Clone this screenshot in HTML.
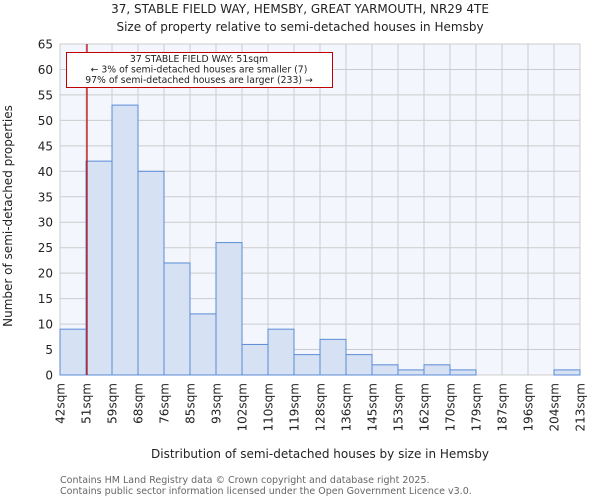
<!DOCTYPE html>
<html><head><meta charset="utf-8"><style>
body{margin:0;background:#fff;font-family:"DejaVu Sans","Liberation Sans",sans-serif;}
svg text{font-family:"DejaVu Sans","Liberation Sans",sans-serif;}
</style></head><body>
<svg id="chart" width="600" height="500" xmlns="http://www.w3.org/2000/svg">
<text x="300" y="13" text-anchor="middle" font-size="12" fill="#222">37, STABLE FIELD WAY, HEMSBY, GREAT YARMOUTH, NR29 4TE</text>
<text x="300" y="31" text-anchor="middle" font-size="12" fill="#222">Size of property relative to semi-detached houses in Hemsby</text>
<rect x="60" y="44" width="520" height="331" fill="#f3f6fd"/>
<g id="grid"></g><g id="bars"></g><g id="axes"></g>
<text transform="translate(12,216) rotate(-90)" text-anchor="middle" font-size="12" fill="#222">Number of semi-detached properties</text>
<text x="320" y="458" text-anchor="middle" font-size="12" fill="#222">Distribution of semi-detached houses by size in Hemsby</text>
<text x="60" y="483" font-size="9.5" fill="#666">Contains HM Land Registry data © Crown copyright and database right 2025.</text>
<text x="60" y="494" font-size="9.5" fill="#666">Contains public sector information licensed under the Open Government Licence v3.0.</text>
<line x1="87" y1="44" x2="87" y2="375" stroke="#c00000" stroke-width="1.2"/>
<g>
<rect x="66.5" y="52.5" width="266" height="35" fill="#fff" stroke="#c00000" stroke-width="1"/>
<text x="199" y="62" text-anchor="middle" font-size="9.3" fill="#222">37 STABLE FIELD WAY: 51sqm</text>
<text x="199" y="72.5" text-anchor="middle" font-size="9.3" fill="#222">← 3% of semi-detached houses are smaller (7)</text>
<text x="199" y="83" text-anchor="middle" font-size="9.3" fill="#222">97% of semi-detached houses are larger (233) →</text>
</g>
</svg>
<script>
const categories=["42sqm","51sqm","59sqm","68sqm","76sqm","85sqm","93sqm","102sqm","110sqm","119sqm","128sqm","136sqm","145sqm","153sqm","162sqm","170sqm","179sqm","187sqm","196sqm","204sqm","213sqm"];
const counts=[9,42,53,40,22,12,26,6,9,4,7,4,2,1,2,1,0,0,0,1];
const yTicks=[0,5,10,15,20,25,30,35,40,45,50,55,60,65];
const NS="http://www.w3.org/2000/svg";
const x0=60,x1=580,y0=375,y1=44,yMax=65;
const bw=(x1-x0)/counts.length;
const xs=i=>x0+i*bw;
const ys=v=>y0-(v/yMax)*(y0-y1);
function mk(tag,attrs,parent){const e=document.createElementNS(NS,tag);for(const k in attrs)e.setAttribute(k,attrs[k]);parent.appendChild(e);return e;}
const grid=document.getElementById('grid'),bars=document.getElementById('bars'),axes=document.getElementById('axes');
yTicks.forEach(t=>{
  const l=mk('line',{x1:x0,x2:x1,y1:ys(t),y2:ys(t),stroke:'#cccccc','stroke-width':1},grid);
  
  
  const tx=mk('text',{x:x0-7,y:ys(t)+4.5,'text-anchor':'end','font-size':'12',fill:'#222'},axes);
  tx.textContent=t;
  
  
});
categories.forEach((c,i)=>{
  const l=mk('line',{x1:xs(i),x2:xs(i),y1:y1,y2:y0,stroke:'#cccccc','stroke-width':1},grid);
  
  
  const tx=mk('text',{transform:`translate(${xs(i)+4.5},${y0+8}) rotate(-90)`,'text-anchor':'end','font-size':'12',fill:'#222'},axes);
  tx.textContent=c;
  
  
});
counts.forEach((v,i)=>{
  if(v<=0)return;
  const r=mk('rect',{x:xs(i),y:ys(v),width:bw,height:y0-ys(v),fill:'#d6e1f3',stroke:'#5b8bd6','stroke-width':1},bars);
  
  
});
</script>
</body></html>
